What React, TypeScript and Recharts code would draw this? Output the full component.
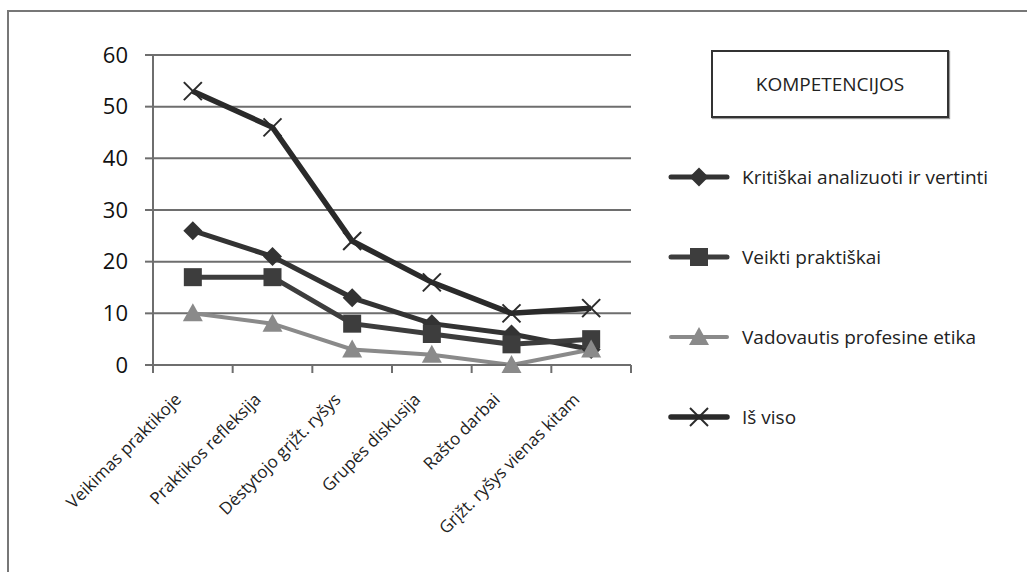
import React from 'react';
import { LineChart, Line, XAxis, YAxis, CartesianGrid } from 'recharts';

const categories = [
  'Veikimas praktikoje',
  'Praktikos refleksija',
  'Dėstytojo grįžt. ryšys',
  'Grupės diskusija',
  'Rašto darbai',
  'Grįžt. ryšys vienas kitam',
];

const kritiskai = [26, 21, 13, 8, 6, 3];
const veikti = [17, 17, 8, 6, 4, 5];
const vadovautis = [10, 8, 3, 2, 0, 3];
const isViso = [53, 46, 24, 16, 10, 11];

const yTicks = [0, 10, 20, 30, 40, 50, 60];
const boundaryTicks = [0, 1, 2, 3, 4, 5, 6];

const data = categories.map((name, i) => ({
  name,
  pos: i + 0.5,
  kritiskai: kritiskai[i],
  veikti: veikti[i],
  vadovautis: vadovautis[i],
  isViso: isViso[i],
}));

const FONT = '"Open Sans", "Noto Sans", sans-serif';

const DiamondDot = ({ cx, cy, fill }: any) => (
  <path d={`M${cx},${cy - 9.5} L${cx + 9.5},${cy} L${cx},${cy + 9.5} L${cx - 9.5},${cy} Z`} fill={fill} />
);

const SquareDot = ({ cx, cy, fill }: any) => (
  <rect x={cx - 9} y={cy - 9} width={18} height={18} fill={fill} />
);

const TriangleDot = ({ cx, cy, fill }: any) => (
  <path d={`M${cx},${cy - 10} L${cx + 10},${cy + 8} L${cx - 10},${cy + 8} Z`} fill={fill} />
);

const CrossDot = ({ cx, cy, fill }: any) => (
  <g stroke={fill} strokeWidth={2}>
    <line x1={cx - 9} y1={cy - 9} x2={cx + 9} y2={cy + 9} />
    <line x1={cx - 9} y1={cy + 9} x2={cx + 9} y2={cy - 9} />
  </g>
);

const series = [
  { key: 'kritiskai', label: 'Kritiškai analizuoti ir vertinti', color: '#333333', width: 5, Dot: DiamondDot },
  { key: 'veikti', label: 'Veikti praktiškai', color: '#3d3d3d', width: 5, Dot: SquareDot },
  { key: 'vadovautis', label: 'Vadovautis profesine etika', color: '#8a8a8a', width: 4, Dot: TriangleDot },
  { key: 'isViso', label: 'Iš viso', color: '#2a2a2a', width: 5.5, Dot: CrossDot },
];

const LegendBox = () => (
  <div style={{ position: 'absolute', left: 650, top: 50, width: 377, height: 400, fontFamily: FONT, color: '#222' }}>
    <div
      style={{
        position: 'absolute',
        left: 61,
        top: 0,
        width: 234,
        height: 64,
        border: '2px solid #333',
        boxShadow: '1px 1px 1px #999',
        display: 'flex',
        alignItems: 'center',
        justifyContent: 'center',
        fontSize: 19,
      }}
    >
      KOMPETENCIJOS
    </div>
    {series.map((s, i) => (
      <div
        key={s.key}
        style={{ position: 'absolute', left: 18, top: 112 + i * 80, display: 'flex', alignItems: 'center', whiteSpace: 'nowrap' }}
      >
        <svg width={62} height={30}>
          <line x1={3} y1={15} x2={59} y2={15} stroke={s.color} strokeWidth={s.width} strokeLinecap="round" />
          <s.Dot cx={31} cy={15} fill={s.color} />
        </svg>
        <span style={{ marginLeft: 12, fontSize: 19 }}>{s.label}</span>
      </div>
    ))}
  </div>
);

const App = () => {
  return (
    <div style={{ position: 'absolute', left: 0, top: 0, width: 1027, height: 572, background: '#fff' }}>
      <div
        style={{
          position: 'absolute',
          left: 7,
          top: 10,
          right: 0,
          bottom: 0,
          borderTop: '2px solid #777',
          borderLeft: '2px solid #777',
        }}
      />
      <div style={{ position: 'absolute', left: 0, top: 0 }}>
        <LineChart
          width={1027}
          height={572}
          data={data}
          margin={{ top: 55, right: 396, left: 0, bottom: 7 }}
        >
          <CartesianGrid vertical={false} stroke="#6e6e6e" strokeWidth={2} xAxisId={0} />
          <XAxis
            xAxisId={0}
            dataKey="pos"
            type="number"
            domain={[0, 6]}
            ticks={boundaryTicks}
            tick={() => <g />}
            height={10}
            tickSize={8}
            stroke="#6e6e6e"
            strokeWidth={2}
          />
          <XAxis
            xAxisId={1}
            dataKey="name"
            type="category"
            scale="band"
            axisLine={false}
            tickLine={false}
            tickSize={0}
            tickMargin={17}
            interval={0}
            height={190}
            angle={-45}
            textAnchor="end"
            tick={{ fill: '#222', fontSize: 17, fontFamily: FONT, dx: -19 }}
          />
          <YAxis
            domain={[0, 60]}
            ticks={yTicks}
            width={153}
            tickSize={8}
            tickMargin={17}
            stroke="#6e6e6e"
            strokeWidth={2}
            tick={{ fill: '#111', fontSize: 22, fontFamily: FONT }}
          />
          {series.map((s) => (
            <Line
              key={s.key}
              xAxisId={0}
              dataKey={s.key}
              stroke={s.color}
              strokeWidth={s.width}
              isAnimationActive={false}
              dot={(p: any) => <s.Dot key={p.index} cx={p.cx} cy={p.cy} fill={s.color} />}
              activeDot={false}
            />
          ))}
        </LineChart>
      </div>
      <LegendBox />
    </div>
  );
};

export default App;
